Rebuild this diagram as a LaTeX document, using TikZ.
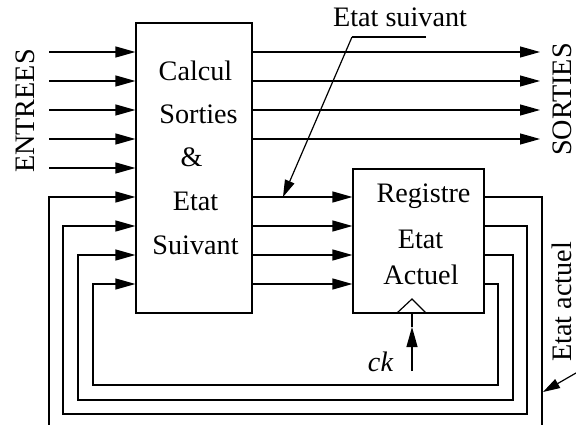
\documentclass[tikz,border=0pt]{standalone}
\usepackage{fontspec}
\setmainfont{Liberation Serif}
\usetikzlibrary{arrows.meta}
\begin{document}
\begin{tikzpicture}[x=1pt,y=-1pt,
  wire/.style={line width=1.2pt},
  arr/.style={wire,-{Triangle[length=20pt,width=11pt]}},
  sarr/.style={wire,-{Triangle[length=17pt,width=10pt]}},
  blk/.style={draw,line width=1.2pt,rectangle,inner sep=0pt},
  txt/.style={font=\fontsize{28.2}{34}\selectfont,inner sep=0pt,anchor=base}]
\useasboundingbox (0,0) rectangle (576,425);
% blocks
\node[blk,minimum width=116pt,minimum height=290pt] (calc) at (194,168) {};
\node[blk,minimum width=131pt,minimum height=144pt] (reg) at (418.5,241) {};
% texts in blocks
\node[txt] (t1) at (195.5,81) {Calcul};
\node[txt] (t2) at (198.5,124) {Sorties};
\node[txt] (t3) at (191.5,167) {\&};
\node[txt] (t4) at (195.5,211) {Etat};
\node[txt] (t5) at (195.5,254) {Suivant};
\node[txt] (r1) at (423.5,203) {Registre};
\node[txt] (r2) at (420.5,248) {Etat};
\node[txt] (r3) at (421,284) {Actuel};
% external inputs
\foreach \i/\y in {1/52,2/81,3/110,4/139,5/168}{
  \coordinate (in\i) at (49,\y);
  \draw[arr] (in\i) -- (in\i -| calc.west);
}
% outputs
\foreach \i/\y in {1/52,2/81,3/110,4/139}{
  \coordinate (out\i) at (540,\y);
  \draw[arr] (out\i -| calc.east) -- (out\i);
}
% next state lines
\foreach \i/\y in {1/197,2/226,3/255,4/284}{
  \coordinate (ns\i) at (300,\y);
  \draw[arr] (ns\i -| calc.east) -- (ns\i -| reg.west);
}
% outer feedback loop (bottom part outside the picture)
\coordinate (oa) at (542,197);
\coordinate (ob) at (49,425);
\draw[wire] (oa -| reg.east) -- (oa) -- (oa |- ob);
\draw[arr] (ob) -- (ob |- oa) -- (oa -| calc.west);
% inner feedback loops
\foreach \y/\r/\b/\l in {226/527/414/63,255/513/400/78,284/498/385/93}{
  \coordinate (fa) at (\r,\y);
  \coordinate (fb) at (\l,\b);
  \draw[arr] (fa -| reg.east) -- (fa) -- (fa |- fb) -- (fb) -- (fb |- fa) -- (fa -| calc.west);
}
% clock
\coordinate (ckl) at (397,313);
\coordinate (ckt) at (412,299);
\coordinate (ckr) at (426,313);
\draw[wire,line join=miter] (ckl) -- (ckt) -- (ckr);
\coordinate (ckb) at (412,371);
\coordinate (ckm) at (412,327);
\draw[arr] (ckb) -- (ckm);
\draw[wire] (ckm) -- (ckt |- reg.south);
\node[txt,font=\fontsize{28.2}{34}\selectfont\itshape] (ck) at (380.5,371) {ck};
% labels
\node[txt] (es) at (400,27) {Etat suivant};
\coordinate (esl) at (352,37);
\coordinate (esr) at (426,37);
\coordinate (estip) at (283,197);
\draw[wire] (esr) -- (esl);
\draw[sarr] (esl) -- (estip);
\node[txt,rotate=90] (ea) at (571,302) {Etat actuel};
\coordinate (eas) at (576,373);
\coordinate (eat) at (543,392);
\draw[sarr] (eas) -- (eat);
\node[txt,rotate=90] (ent) at (34.5,111) {ENTREES};
\node[txt,rotate=90] (sor) at (571,99.5) {SORTIES};
\end{tikzpicture}
\end{document}
